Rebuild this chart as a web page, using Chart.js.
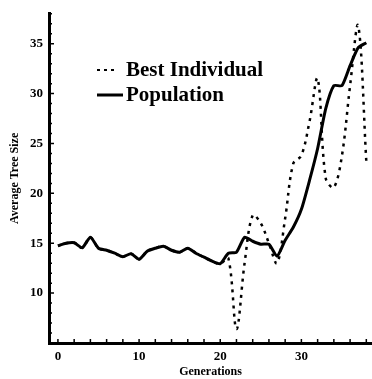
<!DOCTYPE html>
<html>
<head>
<meta charset="utf-8">
<script src="https://cdn.jsdelivr.net/npm/chart.js@4.4.1/dist/chart.umd.min.js"></script>
<style>
  html, body { margin: 0; padding: 0; background: #fff; }
  #wrap { position: relative; width: 372px; height: 379px; }
  canvas { display: block; }
</style>
</head>
<body>
<div id="wrap"><canvas id="c" width="372" height="379"></canvas></div>
<script>
// ---- data ----
const generations = [0,1,2,3,4,5,6,7,8,9,10,11,12,13,14,15,16,17,18,19,20,21,22,23,24,25,26,27,28,29,30,31,32,33,34,35,36,37,38];
const populationSize = [14.75,15.0,15.05,14.55,15.6,14.5,14.3,14.0,13.65,13.95,13.4,14.2,14.5,14.7,14.3,14.1,14.5,14.0,13.6,13.2,12.95,14.0,14.1,15.6,15.2,14.9,14.9,13.7,15.3,16.6,18.4,21.3,24.5,28.5,30.8,30.8,32.8,34.6,35.1];
const bestIndividualSize = [14.75,15.0,15.05,14.55,15.6,14.5,14.3,14.0,13.65,13.95,13.4,14.2,14.5,14.7,14.3,14.1,14.5,14.0,13.6,13.2,12.95,13.5,6.4,13.0,17.8,17.0,15.0,13.0,17.5,23.0,23.8,27.2,31.5,21.5,20.6,23.8,30.8,36.8,23.2];
const xTickLabels = [0,10,20,30];
const yTickLabels = [10,15,20,25,30,35];
const seriesNames = ["Best Individual","Population"];
const axisTitles = { x: "Generations", y: "Average Tree Size" };

const toPoints = (xs, ys) => xs.map((x, i) => ({ x: x, y: ys[i] }));

const serif = "'Liberation Serif', 'DejaVu Serif', serif";

// inward minor ticks drawn through the chart's own scales
const innerTicks = {
  id: 'innerTicks',
  afterDraw(chart) {
    const ctx = chart.ctx;
    const xs = chart.scales.x, ys = chart.scales.y;
    const area = chart.chartArea;
    ctx.save();
    ctx.strokeStyle = '#000';
    ctx.lineWidth = 1.5;
    ctx.beginPath();
    for (let v = 0; v <= 38; v += 2) {
      const px = xs.getPixelForValue(v);
      ctx.moveTo(px, area.bottom);
      ctx.lineTo(px, area.bottom - 4);
    }
    for (let v = 6; v <= 38; v += 1) {
      const py = ys.getPixelForValue(v);
      ctx.moveTo(area.left, py);
      ctx.lineTo(area.left + (v % 5 === 0 ? 5 : 3), py);
    }
    ctx.stroke();
    ctx.restore();
  }
};

// legend inside the plot
const insideLegend = {
  id: 'insideLegend',
  afterDraw(chart) {
    const ctx = chart.ctx;
    const rows = [
      { y: 70, dash: [3, 4], width: 2, x0: 97, x1: 117 },
      { y: 95, dash: [], width: 3, x0: 97, x1: 123 }
    ];
    ctx.save();
    rows.forEach((r, i) => {
      ctx.beginPath();
      ctx.setLineDash(r.dash);
      ctx.lineWidth = r.width;
      ctx.strokeStyle = '#000';
      ctx.moveTo(r.x0, r.y);
      ctx.lineTo(r.x1, r.y);
      ctx.stroke();
      ctx.setLineDash([]);
      ctx.fillStyle = '#000';
      ctx.font = "bold 21px " + serif;
      ctx.textBaseline = 'middle';
      ctx.textAlign = 'left';
      ctx.fillText(seriesNames[i], 126, r.y + 1);
    });
    ctx.restore();
  }
};

new Chart(document.getElementById('c'), {
  type: 'line',
  data: {
    datasets: [
      {
        label: seriesNames[0],
        data: toPoints(generations, bestIndividualSize),
        borderColor: '#000',
        borderWidth: 2.5,
        borderDash: [3, 5],
        pointRadius: 0,
        tension: 0.35,
        fill: false
      },
      {
        label: seriesNames[1],
        data: toPoints(generations, populationSize),
        borderColor: '#000',
        borderWidth: 3,
        pointRadius: 0,
        tension: 0.2,
        fill: false
      }
    ]
  },
  options: {
    responsive: false,
    animation: false,
    devicePixelRatio: 1,
    layout: { padding: { top: 10, right: 0, left: 0, bottom: 0 } },
    plugins: { legend: { display: false }, tooltip: { enabled: false } },
    scales: {
      x: {
        type: 'linear',
        min: -1.1,
        max: 38.7,
        afterBuildTicks: s => { s.ticks = xTickLabels.map(v => ({ value: v })); },
        afterFit: s => { s.height = 36; },
        grid: { display: false, drawTicks: false },
        border: { display: true, color: '#000', width: 3 },
        ticks: { color: '#000', padding: 6, maxRotation: 0, font: { family: serif, size: 13, weight: 'bold' } },
        title: { display: true, text: axisTitles.x, color: '#000', padding: 0, font: { family: serif, size: 12, weight: 'bold' } }
      },
      y: {
        min: 5,
        max: 38,
        afterBuildTicks: s => { s.ticks = yTickLabels.map(v => ({ value: v })); },
        afterFit: s => { s.width = 49; },
        grid: { display: false, drawTicks: false },
        border: { display: true, color: '#000', width: 3 },
        ticks: { color: '#000', padding: 6, font: { family: serif, size: 13, weight: 'bold' } },
        title: { display: true, text: axisTitles.y, color: '#000', padding: { top: 8, bottom: 0 }, font: { family: serif, size: 12, weight: 'bold' } }
      }
    }
  },
  plugins: [innerTicks, insideLegend]
});
</script>
</body>
</html>
